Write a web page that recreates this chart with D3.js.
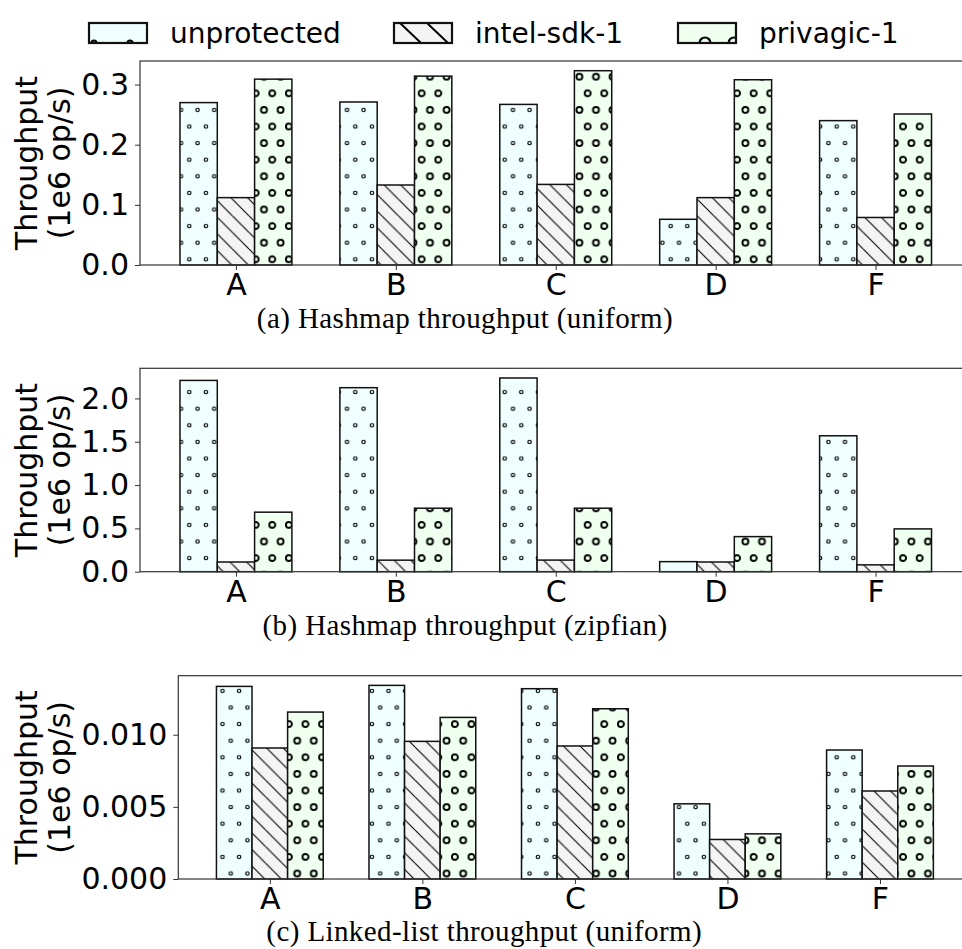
<!DOCTYPE html>
<html>
<head>
<meta charset="utf-8">
<script src="https://cdn.jsdelivr.net/npm/d3@7"></script>
<style>
  body { margin: 0; background: #fff; }
  svg { display: block; }
</style>
</head>
<body>
<svg id="chart" width="962" height="949"></svg>
<script>
// ---- data (throughput, 1e6 op/s) ----
const workloads = ["A", "B", "C", "D", "F"];
const seriesNames = ["unprotected", "intel-sdk-1", "privagic-1"];

const hashUniformUnprotected = [0.270, 0.271, 0.267, 0.076, 0.240];
const hashUniformIntel       = [0.112, 0.133, 0.134, 0.112, 0.079];
const hashUniformPrivagic    = [0.309, 0.314, 0.323, 0.308, 0.251];

const hashZipfUnprotected = [2.208, 2.124, 2.236, 0.116, 1.569];
const hashZipfIntel       = [0.112, 0.133, 0.134, 0.112, 0.079];
const hashZipfPrivagic    = [0.687, 0.733, 0.733, 0.405, 0.494];

const listUniformUnprotected = [0.01335, 0.01342, 0.01319, 0.00521, 0.00894];
const listUniformIntel       = [0.00908, 0.00954, 0.00922, 0.00274, 0.00610];
const listUniformPrivagic    = [0.01157, 0.01120, 0.01180, 0.00313, 0.00783];

const ticksHashUniform = [0, 0.1, 0.2, 0.3];
const ticksHashZipf    = [0, 0.5, 1.0, 1.5, 2.0];
const ticksListUniform = [0, 0.005, 0.010];

const captions = [
  "(a) Hashmap throughput (uniform)",
  "(b) Hashmap throughput (zipfian)",
  "(c) Linked-list throughput (uniform)"
];

// ---- styling ----
const fills = ["#efffff", "#f4f4f4", "#effff0"];
const hatchIds = ["hatch-small-rings", "hatch-back-diag", "hatch-big-rings"];
const legendHatchIds = ["leg-small-rings", "leg-back-diag", "leg-big-rings"];
const sansFont = "'DejaVu Sans', sans-serif";
const serifFont = "'Liberation Serif', 'DejaVu Serif', serif";
const fontSize = 30;

const svg = d3.select("#chart");
const defs = svg.append("defs");
const U = 16.6; // hatch cell spacing

function ringPattern(id, fill, r, sw) {
  const p = defs.append("pattern")
    .attr("id", id)
    .attr("patternUnits", "userSpaceOnUse")
    .attr("width", U).attr("height", 2 * U)
    .attr("x", 6.7).attr("y", 26.9);
  p.append("rect").attr("width", U).attr("height", 2 * U).attr("fill", fill);
  const pts = [[0, 0], [U, 0], [0, 2 * U], [U, 2 * U], [U / 2, U]];
  p.selectAll("circle").data(pts).join("circle")
    .attr("cx", d => d[0]).attr("cy", d => d[1]).attr("r", r)
    .attr("fill", "none").attr("stroke", "#000").attr("stroke-width", sw);
}
ringPattern(hatchIds[0], fills[0], 1.7, 1.2);
ringPattern(hatchIds[2], fills[2], 3.0, 1.9);

const diag = defs.append("pattern")
  .attr("id", hatchIds[1])
  .attr("patternUnits", "userSpaceOnUse")
  .attr("width", U).attr("height", U);
diag.append("rect").attr("width", U).attr("height", U).attr("fill", fills[1]);
diag.append("path")
  .attr("d", `M0,0L${U},${U}M${-U},0L0,${U}M0,${-U}L${U},0`)
  .attr("stroke", "#000").attr("stroke-width", 1.1).attr("fill", "none");

// ---- legend swatch hatches (coarser, aligned to the swatch) ----
const legendX = [89, 394, 678];
const legendY = 23, legendW = 58, legendH = 20;
function legendPattern(id, fill, x0, draw) {
  const p = defs.append("pattern")
    .attr("id", id)
    .attr("patternUnits", "userSpaceOnUse")
    .attr("x", x0).attr("y", legendY)
    .attr("width", legendW).attr("height", legendH);
  p.append("rect").attr("width", legendW).attr("height", legendH).attr("fill", fill);
  draw(p);
}
legendPattern(legendHatchIds[0], fills[0], legendX[0], p => {
  [5, 41].forEach(cx => p.append("circle").attr("cx", cx).attr("cy", legendH)
    .attr("r", 2.6).attr("fill", "none").attr("stroke", "#000").attr("stroke-width", 2));
});
legendPattern(legendHatchIds[1], fills[1], legendX[1], p => {
  p.append("path").attr("d", `M6,0L27,${legendH}M33,0L54,${legendH}`)
    .attr("stroke", "#000").attr("stroke-width", 2).attr("fill", "none");
});
legendPattern(legendHatchIds[2], fills[2], legendX[2], p => {
  [27, 56].forEach(cx => p.append("circle").attr("cx", cx).attr("cy", legendH)
    .attr("r", 5.5).attr("fill", "none").attr("stroke", "#000").attr("stroke-width", 2.2));
});

// ---- panels ----
const panels = [
  { series: [hashUniformUnprotected, hashUniformIntel, hashUniformPrivagic],
    ticks: ticksHashUniform, fmt: d3.format(".1f"),
    left: 140, top: 61, bottom: 265, captionY: 328 },
  { series: [hashZipfUnprotected, hashZipfIntel, hashZipfPrivagic],
    ticks: ticksHashZipf, fmt: d3.format(".1f"),
    left: 140, top: 368.3, bottom: 571.7, captionY: 635 },
  { series: [listUniformUnprotected, listUniformIntel, listUniformPrivagic],
    ticks: ticksListUniform, fmt: d3.format(".3f"),
    left: 178.3, top: 675.7, bottom: 879, captionY: 941 }
];
const plotRight = 971.5;
const captionRight = 790;
const barWidth = 0.7 / 3;

panels.forEach((pn, pi) => {
  const x = d3.scaleLinear().domain([-0.6, 4.6]).range([pn.left, plotRight]);
  const maxVal = d3.max(pn.series.flat());
  const y = d3.scaleLinear().domain([0, maxVal * 1.05]).range([pn.bottom, pn.top]);
  const g = svg.append("g");

  // bars
  pn.series.forEach((vals, si) => {
    g.selectAll(null).data(vals).join("rect")
      .attr("x", (d, i) => x(i + (si - 1) * barWidth - barWidth / 2))
      .attr("width", x(barWidth) - x(0))
      .attr("y", d => y(d))
      .attr("height", d => y(0) - y(d))
      .attr("fill", `url(#${hatchIds[si]})`)
      .attr("stroke", "#111")
      .attr("stroke-width", 1.5);
  });

  // frame
  g.append("rect")
    .attr("x", pn.left).attr("y", pn.top)
    .attr("width", plotRight - pn.left).attr("height", pn.bottom - pn.top)
    .attr("fill", "none").attr("stroke", "#333").attr("stroke-width", 1.2);

  // y axis
  const yAxis = d3.axisLeft(y).tickValues(pn.ticks).tickFormat(pn.fmt)
    .tickSize(5).tickPadding(6);
  const ya = g.append("g").attr("transform", `translate(${pn.left},0)`).call(yAxis);
  ya.select(".domain").remove();
  ya.selectAll("line").attr("stroke", "#333");
  ya.selectAll("text").attr("font-family", sansFont).attr("font-size", fontSize).attr("fill", "#000");

  // x axis
  const xAxis = d3.axisBottom(x).tickValues(d3.range(workloads.length))
    .tickFormat(i => workloads[i]).tickSize(5).tickPadding(4);
  const xa = g.append("g").attr("transform", `translate(0,${pn.bottom})`).call(xAxis);
  xa.select(".domain").remove();
  xa.selectAll("line").attr("stroke", "#333");
  xa.selectAll("text").attr("font-family", sansFont).attr("font-size", fontSize).attr("fill", "#000");

  // y label (two lines)
  const cy = (pn.top + pn.bottom) / 2;
  [["Throughput", 37], ["(1e6 op/s)", 70]].forEach(([t, bx]) => {
    g.append("text")
      .attr("transform", `translate(${bx},${cy}) rotate(-90)`)
      .attr("text-anchor", "middle")
      .attr("font-family", sansFont).attr("font-size", fontSize)
      .text(t);
  });

  // caption
  g.append("text")
    .attr("x", (pn.left + captionRight) / 2).attr("y", pn.captionY)
    .attr("text-anchor", "middle")
    .attr("font-family", serifFont).attr("font-size", 29)
    .attr("letter-spacing", 0.4)
    .text(captions[pi]);
});

// ---- legend ----
const legend = svg.append("g");
seriesNames.forEach((name, si) => {
  legend.append("rect")
    .attr("x", legendX[si]).attr("y", legendY)
    .attr("width", legendW).attr("height", legendH)
    .attr("fill", `url(#${legendHatchIds[si]})`)
    .attr("stroke", "#111").attr("stroke-width", 2.2);
  legend.append("text")
    .attr("x", legendX[si] + 81).attr("y", 43)
    .attr("font-family", sansFont).attr("font-size", 28)
    .text(name);
});
</script>
</body>
</html>
